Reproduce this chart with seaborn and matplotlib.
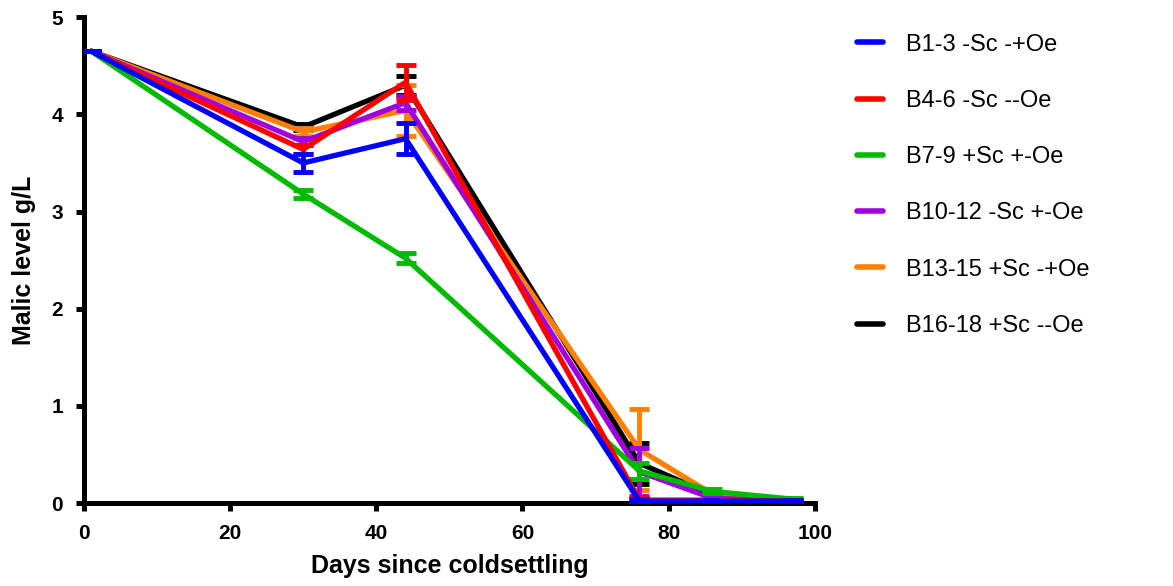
import pandas as pd
import numpy as np
import seaborn as sns
import matplotlib.pyplot as plt

# days since coldsettling
days = [1, 30, 44, 76, 86, 97]

groups = ["B1-3 -Sc -+Oe", "B4-6 -Sc --Oe", "B7-9 +Sc +-Oe",
          "B10-12 -Sc +-Oe", "B13-15 +Sc -+Oe", "B16-18 +Sc --Oe"]
colors = ["#0000ff", "#ff0000", "#00bb00", "#a000e0", "#ff8000", "#000000"]

# malic level g/L (means)
b1_3 = [4.65, 3.50, 3.75, 0.02, 0.02, 0.02]
b4_6 = [4.65, 3.64, 4.33, 0.03, 0.03, 0.02]
b7_9 = [4.65, 3.18, 2.52, 0.33, 0.12, 0.04]
b10_12 = [4.65, 3.72, 4.12, 0.32, 0.05, 0.02]
b13_15 = [4.65, 3.82, 4.04, 0.55, 0.09, 0.03]
b16_18 = [4.65, 3.87, 4.30, 0.41, 0.08, 0.03]

# error bar half-widths
e1_3 = [0, 0.09, 0.16, 0.02, 0.01, 0.01]
e4_6 = [0, 0.05, 0.18, 0.02, 0.01, 0.01]
e7_9 = [0, 0.04, 0.05, 0.08, 0.02, 0.01]
e10_12 = [0, 0.04, 0.07, 0.25, 0.02, 0.01]
e13_15 = [0, 0.04, 0.26, 0.42, 0.02, 0.01]
e16_18 = [0, 0.03, 0.10, 0.21, 0.02, 0.01]

means = [b1_3, b4_6, b7_9, b10_12, b13_15, b16_18]
errs = [e1_3, e4_6, e7_9, e10_12, e13_15, e16_18]

rows = []
for g, m, e in zip(groups, means, errs):
    for d, v, s in zip(days, m, e):
        rows.append({"day": d, "malic": v, "err": s, "group": g})
df = pd.DataFrame(rows)

sns.set_style("ticks", {"axes.edgecolor": "black", "text.color": "black",
                        "xtick.color": "black", "ytick.color": "black",
                        "axes.labelcolor": "black"})
plt.rcParams['font.family'] = ['Liberation Sans', 'DejaVu Sans']

fig = plt.figure(figsize=(11.73, 5.86), dpi=100)
ax = fig.add_axes([0.0716, 0.1416, 0.623, 0.829])

palette = dict(zip(groups, colors))
n = len(groups)
for i, g in enumerate(groups):
    sub = df[df.group == g]
    z = 10 + (n - i)
    sns.lineplot(data=sub, x="day", y="malic", color=palette[g], lw=3.8,
                 label=g, ax=ax, zorder=z, errorbar=None)
    ax.errorbar(sub.day, sub.malic, yerr=sub.err, fmt="none", ecolor=palette[g],
                elinewidth=3.5, capsize=7, capthick=3.5, zorder=z)

ax.set_xlim(0, 100)
ax.set_ylim(0, 5)
ax.set_xticks([0, 20, 40, 60, 80, 100])
ax.set_yticks([0, 1, 2, 3, 4, 5])
for s in ["top", "right"]:
    ax.spines[s].set_visible(False)
for s in ["left", "bottom"]:
    ax.spines[s].set_linewidth(3.6)
ax.tick_params(width=3.6, length=6, labelsize=15, pad=9)
for lab in ax.get_xticklabels() + ax.get_yticklabels():
    lab.set_fontweight("bold")
ax.set_xlabel("Days since coldsettling", fontsize=18, fontweight="bold", labelpad=8)
ax.set_ylabel("Malic level g/L", fontsize=18, fontweight="bold", labelpad=11)

ax.legend(loc="upper left", bbox_to_anchor=(1.035, 1.0), frameon=False,
          fontsize=17, handlelength=1.1, labelspacing=1.45, handletextpad=1.0,
          borderaxespad=0.3)
for line in ax.get_legend().get_lines():
    line.set_linewidth(4)

fig.savefig("out.png", dpi=100)
